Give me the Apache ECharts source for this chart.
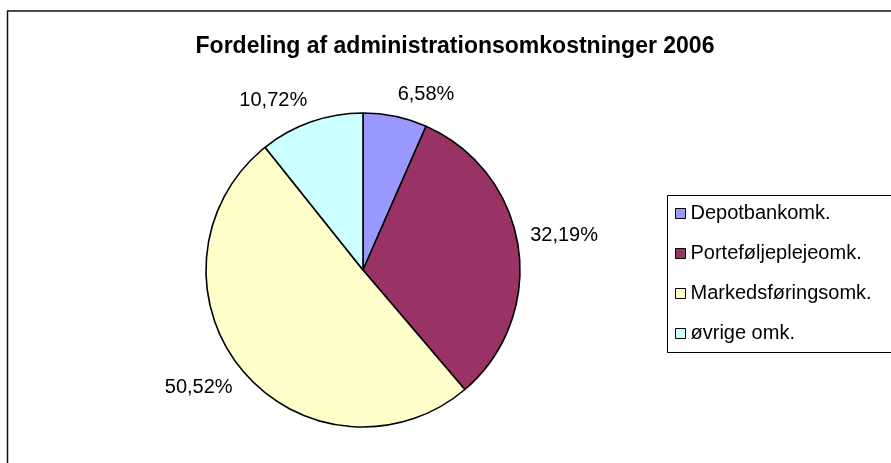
<!DOCTYPE html>
<html>
<head>
<meta charset="utf-8">
<script src="https://cdn.jsdelivr.net/npm/echarts@6/dist/echarts.min.js"></script>
<style>
  html, body { margin: 0; padding: 0; background: #fff; }
  #chart { width: 891px; height: 463px; }
</style>
</head>
<body>
<div id="chart"></div>
<script>
// kategorier og andele (procent)
const categories = ["Depotbankomk.", "Porteføljeplejeomk.", "Markedsføringsomk.", "øvrige omk."];
const shares = [6.58, 32.19, 50.52, 10.72];
const colors = ["#9999FF", "#993366", "#FFFFCC", "#CCFFFF"];

const chart = echarts.init(document.getElementById("chart"));

chart.setOption({
  animation: false,
  title: {
    text: "Fordeling af administrationsomkostninger 2006",
    left: 450,
    top: 30,
    textAlign: "center",
    textStyle: {
      fontFamily: "Liberation Sans, Arial, sans-serif",
      fontSize: 23,
      fontWeight: "bold",
      color: "#000"
    }
  },
  legend: {
    orient: "vertical",
    left: 675,
    top: 203,
    itemWidth: 10,
    itemHeight: 10,
    itemGap: 19,
    itemTextGap: 17,
    icon: "rect",
    padding: 0,
    selectedMode: false,
    itemStyle: { borderColor: "#000", borderWidth: 1 },
    textStyle: {
      fontFamily: "Liberation Sans, Arial, sans-serif",
      fontSize: 20,
      lineHeight: 21,
      color: "#000"
    },
    data: categories
  },
  graphic: [
    // ramme om hele diagrammet
    {
      type: "rect",
      shape: { x: 7.5, y: 11, width: 900, height: 470 },
      style: { fill: "none", stroke: "#111", lineWidth: 1.5 },
      z: -1
    },
    // ramme om forklaringen
    {
      type: "rect",
      shape: { x: 667.5, y: 195.5, width: 240, height: 157 },
      style: { fill: "#fff", stroke: "#000", lineWidth: 1 },
      z: -1
    }
  ],
  series: [
    {
      type: "pie",
      center: [363, 270],
      radius: 157,
      startAngle: 90,
      clockwise: true,
      avoidLabelOverlap: false,
      emphasis: { disabled: true },
      itemStyle: { borderColor: "#000", borderWidth: 1.6 },
      label: {
        show: true,
        position: "outside",
        fontFamily: "Liberation Sans, Arial, sans-serif",
        fontSize: 20,
        color: "#000",
        formatter: (p) => p.value.toFixed(2).replace(".", ",") + "%"
      },
      // usynlig linje, bruges kun til at placere teksten
      labelLine: { show: true, length: 12, length2: 0, lineStyle: { opacity: 0 } },
      labelLayout: function (params) {
        const pts = params.labelLinePoints;
        if (!pts) return {};
        const dx = pts[1][0] - pts[0][0];
        const dy = pts[1][1] - pts[0][1];
        return {
          x: pts[1][0],
          y: pts[1][1],
          align: dx >= 0 ? "left" : "right",
          verticalAlign: dy < 0 ? "bottom" : "top"
        };
      },
      data: categories.map((name, i) => ({
        name: name,
        value: shares[i],
        itemStyle: { color: colors[i] }
      }))
    }
  ]
});
</script>
</body>
</html>
